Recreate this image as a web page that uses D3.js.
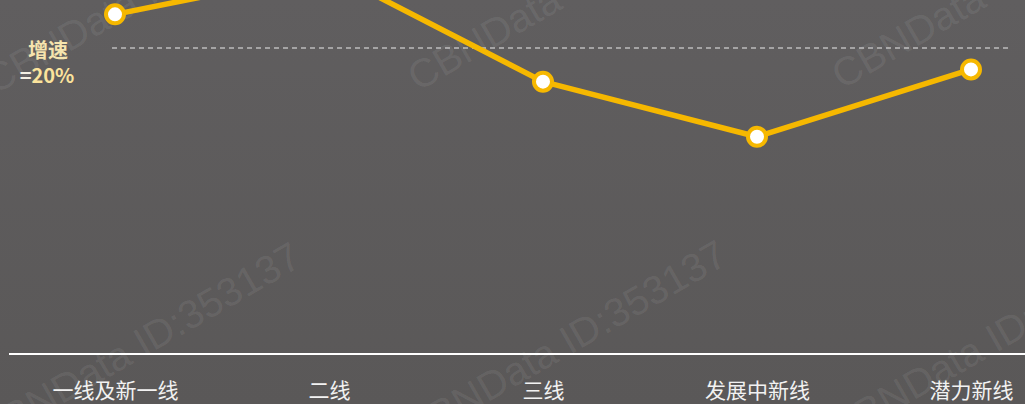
<!DOCTYPE html>
<html><head><meta charset="utf-8">
<script src="https://cdn.jsdelivr.net/npm/d3@7"></script>
<style>html,body{margin:0;padding:0;background:#5c5a5a;overflow:hidden}</style>
</head><body>
<svg id="c" width="1025" height="404"></svg>
<script>
const categories = ["一线及新一线","二线","三线","发展中新线","潜力新线"];
const growth = [22.2, 25.0, 17.8, 14.2, 18.6];
const refValue = 20;
const refLabel = ["增速", "=", "20%"];
const watermark = "CBNData ID:353137";

const W = 1025, H = 404;
const svg = d3.select("#c");
const defs = svg.append("defs");
const g = defs.append("linearGradient").attr("id","bg").attr("x1",0).attr("y1",0).attr("x2",0).attr("y2",1);
g.append("stop").attr("offset","0%").attr("stop-color","#605e5f");
g.append("stop").attr("offset","100%").attr("stop-color","#5a5858");
svg.append("rect").attr("width",W).attr("height",H).attr("fill","url(#bg)");

// watermarks
const wm = svg.append("g").attr("fill","#ffffff").attr("fill-opacity",0.08)
  .style("font-family","'Liberation Sans',Arial,sans-serif").style("font-size","40px");
[[-5,95],[418,92],[842,90],[-12,447],[414,445],[840,443]].forEach(([x,y])=>{
  wm.append("text").attr("transform",`translate(${x},${y}) rotate(-30)`).text(watermark);
});

const x = d3.scalePoint().domain(categories).range([115, 971]).padding(0);
const y = d3.scaleLinear().domain([0, refValue]).range([354, 48]);

// baseline
svg.append("line").attr("x1",9).attr("x2",W).attr("y1",y(0)).attr("y2",y(0))
  .attr("stroke","#ffffff").attr("stroke-width",2);

// axis labels
const ax = svg.append("g").attr("transform",`translate(0,${y(0)})`)
  .call(d3.axisBottom(x).tickSize(0).tickPadding(29));
ax.select(".domain").remove();
ax.selectAll("text").attr("fill","#f2f2f2")
  .style("font-family","'Noto Sans CJK SC',sans-serif").style("font-size","21px");

// reference dashed line
svg.append("line").attr("x1",112).attr("x2",1012).attr("y1",y(refValue)).attr("y2",y(refValue))
  .attr("stroke","#ececec").attr("stroke-width",1.2).attr("stroke-dasharray","5,4");

const lab = svg.append("g").style("font-family","'Noto Sans CJK SC',sans-serif").style("font-weight","bold");
lab.append("text").attr("x",48).attr("y",58).attr("text-anchor","middle")
  .attr("fill","#f6e4ae").style("font-size","20px").text(refLabel[0]);
const t2 = lab.append("text").attr("x",47).attr("y",83).attr("text-anchor","middle").style("font-size","20px");
t2.append("tspan").attr("fill","#f4f0e4").text(refLabel[1]);
t2.append("tspan").attr("fill","#fbe39c").text(refLabel[2]);

// line
const line = d3.line().x((d,i)=>x(categories[i])).y(d=>y(d));
svg.append("path").datum(growth).attr("d",line).attr("fill","none")
  .attr("stroke","#f6b800").attr("stroke-width",5.5).attr("stroke-linejoin","round");

svg.append("g").selectAll("circle").data(growth).join("circle")
  .attr("cx",(d,i)=>x(categories[i])).attr("cy",d=>y(d)).attr("r",9)
  .attr("fill","#ffffff").attr("stroke","#f6b800").attr("stroke-width",4);
</script>
</body></html>
